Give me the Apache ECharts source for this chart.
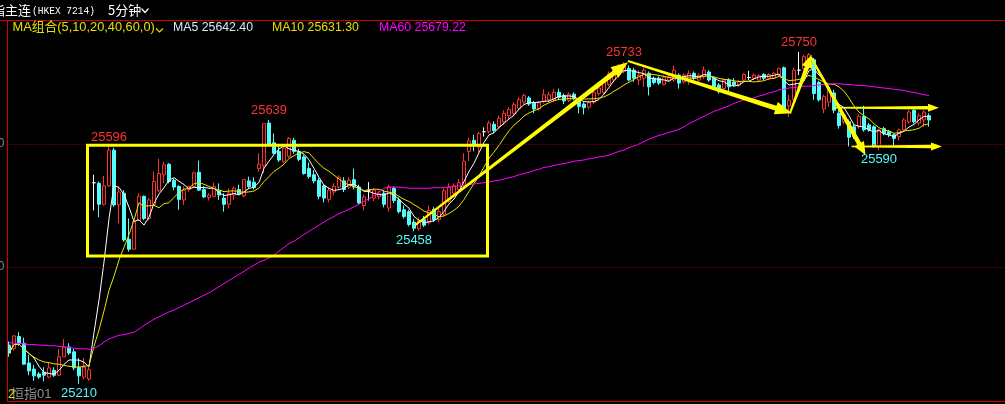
<!DOCTYPE html>
<html><head><meta charset="utf-8">
<script src="https://cdn.jsdelivr.net/npm/echarts@6/dist/echarts.min.js"></script>
<style>html,body{margin:0;padding:0;background:#000;}#c{width:1005px;height:404px;}</style>
</head><body><div id="c"></div>
<script>
// ---- data (5-minute bars) ----
const opens = [25273,25267,25287,25276,25244,25234,25226,25229,25221,25232,25224,25254,25270,25262,25237,25221,25218,
25537,25536,25502,25532,25590,25501,25520,25445,25429,25476,25515,25479,25501,25524,25550,25567,25541,25531,25509,25526,25531,25554,25526,25513,25515,25524,25512,25502,25517,25526,25516,25540,25538,
25560,25565,25634,25602,25588,25572,25580,25606,25588,25579,25560,25550,25541,25532,25510,25522,25530,25540,25530,25542,25530,25500,25525,25512,25514,25520,25496,25528,25509,25493,25490,25473,25462,25477,25472,25494,25477,
25486,25507,25520,25526,25532,25588,25606,25595,25620,25620,25632,25628,25636,25646,25650,25658,25668,25675,25667,25657,25669,25672,25672,25684,25679,25671,25681,25670,25665,25660,25668,25682,25684,25697,25704,25714,25718,
25723,25720,25704,25707,25715,25707,25707,25697,25704,25704,25712,25701,25704,25715,25704,25709,25717,25707,25696,25690,25704,25701,25696,25704,25708,25707,25704,25713,25707,25707,25712,25724,
25662,25672,25720,25723,25735,25737,25700,25657,25668,25683,25650,25636,25636,25628,25628,25645,25631,25628,25596,25625,25620,25615,25612,25623,25636,25655,25634,25639,25646];
const closes = [25260,25288,25276,25242,25231,25223,25221,25224,25236,25224,25254,25270,25260,25236,25223,25237,25233,
25537,25502,25532,25590,25501,25522,25444,25429,25474,25515,25479,25509,25539,25552,25566,25539,25530,25510,25525,25531,25553,25525,25514,25517,25531,25517,25502,25520,25528,25519,25542,25531,25529,
25567,25633,25600,25585,25574,25593,25609,25588,25575,25552,25547,25540,25515,25512,25525,25531,25546,25526,25541,25530,25504,25514,25525,25525,25520,25502,25530,25508,25490,25482,25469,25463,25476,25468,25492,25477,25490,
25524,25530,25532,25537,25572,25605,25598,25617,25620,25634,25622,25642,25650,25656,25664,25672,25679,25665,25657,25667,25680,25680,25684,25676,25670,25681,25674,25661,25659,25667,25684,25691,25704,25714,25723,25727,25730,
25704,25707,25712,25720,25693,25700,25699,25709,25709,25720,25699,25712,25715,25707,25712,25720,25704,25693,25685,25704,25693,25696,25701,25713,25708,25712,25711,25707,25713,25715,25723,25658,
25671,25720,25720,25742,25745,25682,25672,25677,25687,25655,25630,25647,25611,25612,25645,25623,25623,25596,25623,25617,25615,25609,25623,25639,25652,25636,25646,25652,25639];
const highs = [25279,25289,25294,25285,25257,25241,25229,25237,25244,25237,25267,25283,25276,25267,25252,25252,25237,
25550,25539,25548,25596,25594,25531,25525,25479,25476,25520,25516,25512,25555,25576,25571,25569,25544,25533,25531,25532,25555,25573,25531,25520,25537,25536,25520,25528,25531,25534,25543,25547,25546,
25585,25634,25639,25617,25596,25598,25611,25610,25592,25582,25570,25557,25545,25534,25530,25536,25549,25546,25546,25560,25534,25518,25538,25528,25524,25525,25534,25531,25513,25500,25493,25478,25480,25483,25500,25498,25495,
25528,25536,25536,25543,25585,25610,25615,25620,25627,25638,25637,25646,25655,25660,25668,25676,25682,25678,25670,25670,25689,25685,25690,25690,25682,25684,25684,25673,25668,25670,25686,25694,25707,25718,25727,25730,25733,
25728,25724,25720,25724,25718,25710,25710,25712,25713,25728,25715,25715,25720,25718,25715,25726,25720,25710,25699,25707,25707,25707,25704,25715,25719,25715,25713,25715,25715,25717,25724,25726,
25680,25724,25750,25745,25748,25740,25703,25680,25690,25688,25655,25652,25640,25632,25648,25662,25634,25630,25625,25628,25623,25617,25625,25642,25655,25657,25650,25655,25650];
const lows = [25254,25264,25272,25241,25224,25215,25218,25214,25219,25221,25223,25254,25257,25232,25210,25218,25215,
25492,25481,25500,25530,25498,25471,25441,25425,25428,25475,25476,25476,25500,25522,25536,25536,25525,25493,25501,25522,25529,25524,25512,25508,25513,25509,25490,25495,25509,25517,25513,25528,25526,
25555,25553,25597,25583,25571,25569,25577,25584,25572,25550,25544,25536,25510,25505,25505,25517,25527,25522,25527,25526,25501,25492,25508,25507,25510,25497,25490,25504,25487,25479,25466,25458,25459,25465,25469,25473,25473,
25482,25504,25516,25520,25528,25572,25588,25586,25612,25617,25618,25625,25631,25640,25645,25655,25665,25662,25650,25654,25666,25668,25668,25672,25665,25668,25671,25650,25648,25656,25665,25679,25681,25694,25700,25710,25715,
25702,25701,25696,25693,25679,25697,25696,25695,25701,25701,25690,25698,25696,25704,25701,25706,25701,25690,25682,25685,25685,25693,25693,25701,25704,25704,25701,25704,25704,25706,25711,25655,
25644,25668,25712,25720,25730,25672,25669,25650,25660,25650,25625,25632,25596,25608,25625,25620,25620,25594,25590,25614,25611,25598,25606,25620,25633,25633,25630,25628,25628];
// MA60 (depends on bars before the visible window)
const ma60 = [25277,25276,25276,25275,25274,25274,25273,25273,25272,25272,25271,25270,25269,25268,25267,25267,25266,
25268,25272,25278,25283,25286,25289,25290,25292,25294,25299,25305,25310,25315,25319,25323,25327,25330,25334,25338,25342,25346,25350,25354,25358,25363,25368,25373,25378,25383,25388,25393,25398,25403,
25408,25411,25415,25419,25426,25432,25438,25442,25447,25453,25458,25463,25468,25473,25478,25482,25487,25490,25494,25498,25502,25507,25511,25516,25522,25528,25530,25530,25530,25529,25528,25528,25528,25528,25528,25529,25529,
25529,25530,25531,25532,25533,25534,25535,25536,25537,25538,25540,25541,25543,25545,25547,25550,25552,25554,25557,25559,25562,25563,25565,25567,25568,25570,25572,25573,25574,25576,25577,25579,25580,25582,25585,25588,25590,
25594,25597,25600,25604,25608,25611,25614,25616,25619,25621,25624,25628,25633,25637,25641,25645,25649,25653,25656,25659,25662,25666,25669,25672,25673,25675,25678,25680,25683,25685,25688,25689,
25691,25692,25693,25694,25694,25695,25696,25697,25697,25698,25698,25697,25697,25696,25695,25695,25694,25693,25692,25691,25690,25689,25688,25687,25685,25684,25682,25680,25679];
const gridTicks = [25400, 25600];
const peakBars = [20, 52, 123, 158];
const troughBars = [14, 81, 174];
// annotation drawings in data space: [barIndex, price]
const boxCorners = [[15.7, 25598], [95.7, 25418]];
const arrowsBig = [
  [[81.2, 25468], [123.8, 25733]],
  [[123.8, 25735], [156.6, 25650]]
];
const arrowsMid = [
  [[156.2, 25650], [160.5, 25745]],
  [[160.4, 25741], [171.3, 25582]]
];
const arrowsFlat = [
  [[164.8, 25659], [186.0, 25659]],
  [[168.5, 25596], [186.6, 25596]]
];
const legendTexts = ['MA组合(5,10,20,40,60,0)', 'MA5 25642.40', 'MA10 25631.30', 'MA60 25679.22'];

// ---- build ----
const SLOTS = 200;
const categories = Array.from({length: SLOTS}, (_, i) => 'K' + i);
function movingAvg(n) {
  return closes.map((c, i) => {
    const s = Math.max(0, i - n + 1);
    let sum = 0;
    for (let k = s; k <= i; k++) sum += closes[k];
    return +(sum / (i - s + 1)).toFixed(2);
  });
}
const ma5 = movingAvg(5), ma10 = movingAvg(10);
const RED = '#ff3232', CYAN = '#54fcfc', YEL = '#ffff00', MAG = '#ff00ff';
const candleData = opens.map((o, i) => {
  const item = {value: [o, closes[i], lows[i], highs[i]]};
  if (o === closes[i]) item.itemStyle = {color: '#ffffff', borderColor: '#ffffff', color0: '#ffffff', borderColor0: '#ffffff'};
  return item;
});

const chart = echarts.init(document.getElementById('c'));
chart.setOption({
  backgroundColor: '#000',
  animation: false,
  grid: {left: 6.5, top: 21, width: 1000, height: 369, containLabel: false, outerBoundsMode: 'none'},
  xAxis: {type: 'category', data: categories, boundaryGap: true, show: false},
  yAxis: {type: 'value', min: 25200, max: 25800, interval: 200, axisLine: {show: false}, axisTick: {show: false},
    splitLine: {show: false},
    axisLabel: {margin: 2, color: '#8a8a8a', fontSize: 12, fontFamily: 'Liberation Sans',
      formatter: v => gridTicks.includes(v) ? String(v) : ''}},
  series: [
    {type: 'candlestick', data: candleData, barWidth: 3, z: 2,
      itemStyle: {color: '#000000', color0: CYAN, borderColor: RED, borderColor0: CYAN, borderWidth: 1}},
    {type: 'line', data: ma5, symbol: 'none', z: 3, lineStyle: {color: '#ffffff', width: 1}},
    {type: 'line', data: ma10, symbol: 'none', z: 3, lineStyle: {color: '#e6e600', width: 1}},
    {type: 'line', data: ma60, symbol: 'none', z: 3, lineStyle: {color: MAG, width: 1},
      markLine: {silent: true, symbol: 'none', label: {show: false},
        lineStyle: {color: '#a00000', type: [1, 2], width: 1},
        data: gridTicks.map(v => ({yAxis: v}))}}
  ]
});

function P(i, v) {
  const i0 = Math.floor(i), f = i - i0;
  const x0 = chart.convertToPixel({xAxisIndex: 0}, categories[i0]);
  const x1 = chart.convertToPixel({xAxisIndex: 0}, categories[i0 + 1]);
  return [x0 + f * (x1 - x0), chart.convertToPixel({yAxisIndex: 0}, v)];
}
function arrow(a, b, w0, w1, hl, hw) {
  const p0 = P(a[0], a[1]), p1 = P(b[0], b[1]);
  const dx = p1[0] - p0[0], dy = p1[1] - p0[1], L = Math.hypot(dx, dy);
  const ux = dx / L, uy = dy / L, nx = -uy, ny = ux;
  const bx = p1[0] - ux * hl, by = p1[1] - uy * hl;
  return {type: 'polygon', z: 100, shape: {points: [
    [p0[0] + nx * w0 / 2, p0[1] + ny * w0 / 2],
    [bx + nx * w1 / 2, by + ny * w1 / 2],
    [bx + nx * hw / 2, by + ny * hw / 2],
    p1,
    [bx - nx * hw / 2, by - ny * hw / 2],
    [bx - nx * w1 / 2, by - ny * w1 / 2],
    [p0[0] - nx * w0 / 2, p0[1] - ny * w0 / 2]
  ]}, style: {fill: YEL}};
}
function txt(x, y, text, fill, font, align) {
  return {type: 'text', z: 100, style: {x: x, y: y, text: text, fill: fill, font: font,
    align: align || 'left', textAlign: align || 'left', verticalAlign: 'middle', textVerticalAlign: 'middle'}};
}
const NUMF = '13px "Liberation Sans", sans-serif';
const g = [];
// frame lines
g.push({type: 'line', z: 100, shape: {x1: 0, y1: 20.5, x2: 1005, y2: 20.5}, style: {stroke: '#cc0000', lineWidth: 1}});
g.push({type: 'line', z: 100, shape: {x1: 7.5, y1: 20, x2: 7.5, y2: 402}, style: {stroke: '#cc0000', lineWidth: 1}});
g.push({type: 'line', z: 100, shape: {x1: 7, y1: 401.5, x2: 1005, y2: 401.5}, style: {stroke: '#cc0000', lineWidth: 1}});
// header
g.push(txt(-21, 10.5, '恒指主连', '#ffffff', '13px "Noto Sans CJK SC"'));
const hk = txt(0, 0, '(HKEX 7214)', '#ffffff', '11.5px "Liberation Mono", monospace');
hk.x = 32; hk.y = 11; hk.scaleX = 0.83;
g.push(hk);
g.push(txt(108, 10.5, '5分钟', '#ffffff', '13px "Noto Sans CJK SC"'));
g.push({type: 'polyline', z: 100, shape: {points: [[141.5, 8.5], [145, 12.5], [148.5, 8.5]]}, style: {stroke: '#ffffff', lineWidth: 1.2, fill: null}});
// legend row
g.push(txt(12.5, 27.5, legendTexts[0], '#e0e000', '12.8px "Liberation Sans", "Noto Sans CJK SC"'));
g.push({type: 'polyline', z: 100, shape: {points: [[156, 28.5], [159.5, 32], [163, 28.5]]}, style: {stroke: '#e0e000', lineWidth: 1.2, fill: null}});
g.push(txt(173, 27.5, legendTexts[1], '#d8e8ff', '12.3px "Liberation Sans"'));
g.push(txt(272, 27.5, legendTexts[2], '#e0e000', '12.3px "Liberation Sans"'));
g.push(txt(379, 27.5, legendTexts[3], MAG, '12.3px "Liberation Sans"'));
// bottom-left
g.push(txt(11, 394.5, '恒指01', '#909090', '13px "Liberation Sans", "Noto Sans CJK SC"'));
g.push(txt(8, 394.5, '2', '#e0e000', '13px "Liberation Sans"'));
// high / low labels
peakBars.forEach(i => { const p = P(i, highs[i]); g.push(txt(p[0], p[1] - 9.5, String(highs[i]), RED, NUMF, 'center')); });
troughBars.forEach(i => { const p = P(i, lows[i]); g.push(txt(p[0], p[1] + 9.5, String(lows[i]), CYAN, NUMF, 'center')); });
// box
const b0 = P(boxCorners[0][0], boxCorners[0][1]), b1 = P(boxCorners[1][0], boxCorners[1][1]);
g.push({type: 'rect', z: 100, shape: {x: b0[0], y: b0[1], width: b1[0] - b0[0], height: b1[1] - b0[1]},
  style: {fill: 'transparent', stroke: YEL, lineWidth: 3}});
// arrows
arrowsBig.forEach(a => g.push(arrow(a[0], a[1], 2, 5, 17, 13)));
arrowsMid.forEach(a => g.push(arrow(a[0], a[1], 2, 4.5, 13, 11)));
arrowsFlat.forEach(a => g.push(arrow(a[0], a[1], 1.5, 3.5, 11, 8)));
chart.setOption({graphic: g});
</script>
</body></html>
